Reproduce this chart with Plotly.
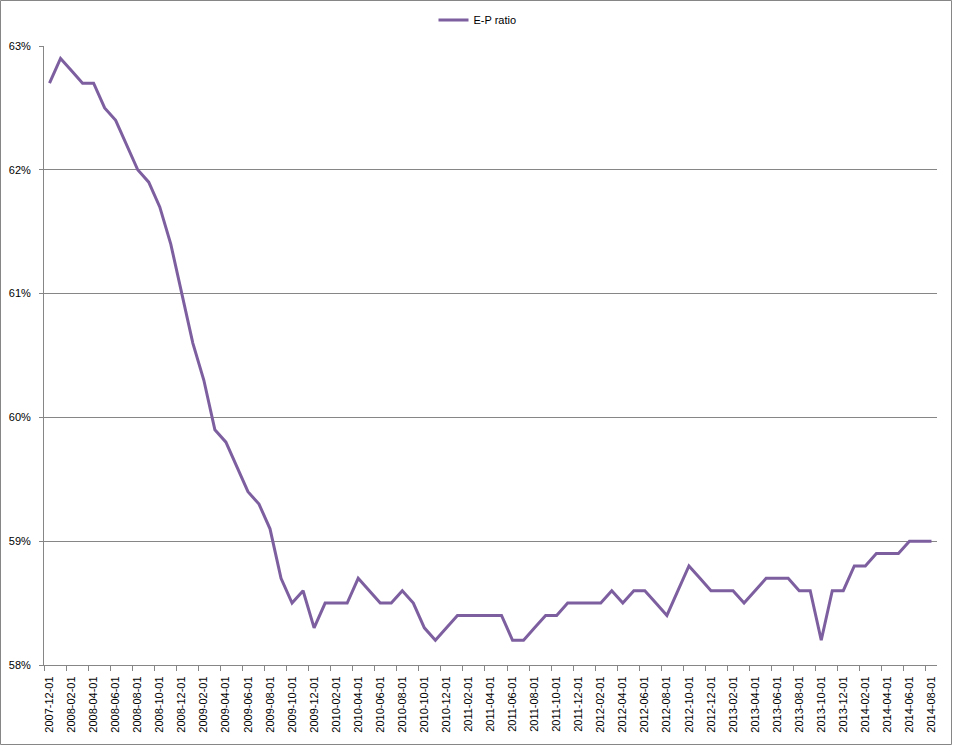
# E-P ratio 라인 차트 (Excel 스타일 재현)

import pandas as pd
import plotly.graph_objects as go

FONT_FAMILY = "Liberation Sans"
GRID_COLOR = "#868686"
LINE_COLOR = "#7D5FA0"

# 월별 카테고리 (2007-12 ~ 2014-08)
months = pd.date_range("2007-12-01", "2014-08-01", freq="MS").strftime("%Y-%m-%d").tolist()

# 고용-인구 비율 (%)
ep_ratio = [
    62.7,
    62.9, 62.8, 62.7, 62.7, 62.5, 62.4, 62.2, 62.0, 61.9, 61.7, 61.4, 61.0,
    60.6, 60.3, 59.9, 59.8, 59.6, 59.4, 59.3, 59.1, 58.7, 58.5, 58.6, 58.3,
    58.5, 58.5, 58.5, 58.7, 58.6, 58.5, 58.5, 58.6, 58.5, 58.3, 58.2, 58.3,
    58.4, 58.4, 58.4, 58.4, 58.4, 58.2, 58.2, 58.3, 58.4, 58.4, 58.5, 58.5,
    58.5, 58.5, 58.6, 58.5, 58.6, 58.6, 58.5, 58.4, 58.6, 58.8, 58.7, 58.6,
    58.6, 58.6, 58.5, 58.6, 58.7, 58.7, 58.7, 58.6, 58.6, 58.2, 58.6, 58.6,
    58.8, 58.8, 58.9, 58.9, 58.9, 59.0, 59.0, 59.0,
]

y_ticks = [58, 59, 60, 61, 62, 63]
y_ticktext = [f"{v}%" for v in y_ticks]

idx = list(range(len(months)))
label_idx = idx[::2]
label_text = [months[i] for i in label_idx]

fig = go.Figure()
fig.add_trace(go.Scatter(
    x=idx,
    y=ep_ratio,
    mode="lines",
    name="E-P ratio",
    line=dict(color=LINE_COLOR, width=3),
))

# 플롯 영역 (픽셀): 좌 44, 우 937, 상 46, 하 665
W, H = 953, 746
L, R, T, B = 44, 937, 46, 665
pw, ph = R - L, B - T

fig.update_layout(
    width=W,
    height=H,
    margin=dict(l=L, r=W - R, t=T, b=H - B, autoexpand=False),
    paper_bgcolor="white",
    plot_bgcolor="white",
    font=dict(family=FONT_FAMILY, size=11, color="black"),
    showlegend=True,
    legend=dict(
        orientation="h",
        x=0.5 - 13 / pw, xanchor="center",
        yref="container",
        y=1 - 20 / H, yanchor="middle",
        font=dict(size=11, color="black"),
        bgcolor="rgba(0,0,0,0)",
    ),
    xaxis=dict(
        range=[-0.5, len(months) - 0.5],
        tickmode="array",
        tickvals=label_idx,
        ticktext=label_text,
        tickangle=-90,
        ticks="",
        ticklabelstandoff=6,
        showgrid=False,
        showline=True,
        linecolor=GRID_COLOR,
        linewidth=1,
        zeroline=False,
        tickfont=dict(size=11, color="black"),
        minor=dict(
            tick0=-0.5,
            dtick=2,
            ticks="outside",
            ticklen=5,
            tickcolor=GRID_COLOR,
            showgrid=False,
        ),
    ),
    yaxis=dict(
        range=[58, 63],
        tickmode="array",
        tickvals=y_ticks,
        ticktext=y_ticktext,
        showgrid=True,
        gridcolor=GRID_COLOR,
        gridwidth=1,
        showline=True,
        linecolor=GRID_COLOR,
        linewidth=1,
        ticks="outside",
        ticklen=4,
        tickcolor=GRID_COLOR,
        ticklabelstandoff=6,
        zeroline=False,
        tickfont=dict(size=11, color="black"),
    ),
)

# 차트 바깥 테두리
fig.add_shape(
    type="rect",
    xref="paper", yref="paper",
    x0=(0.5 - L) / pw, x1=(W - 1.5 - L) / pw,
    y0=(B - (H - 1.5)) / ph, y1=(B - 0.5) / ph,
    line=dict(color=GRID_COLOR, width=1),
    fillcolor="rgba(0,0,0,0)",
    layer="below",
)

# 브라우저 기본 body 여백 제거
fig.write_html(
    "out.html",
    config={"displayModeBar": False},
    post_script="document.body.style.margin='0';",
)
